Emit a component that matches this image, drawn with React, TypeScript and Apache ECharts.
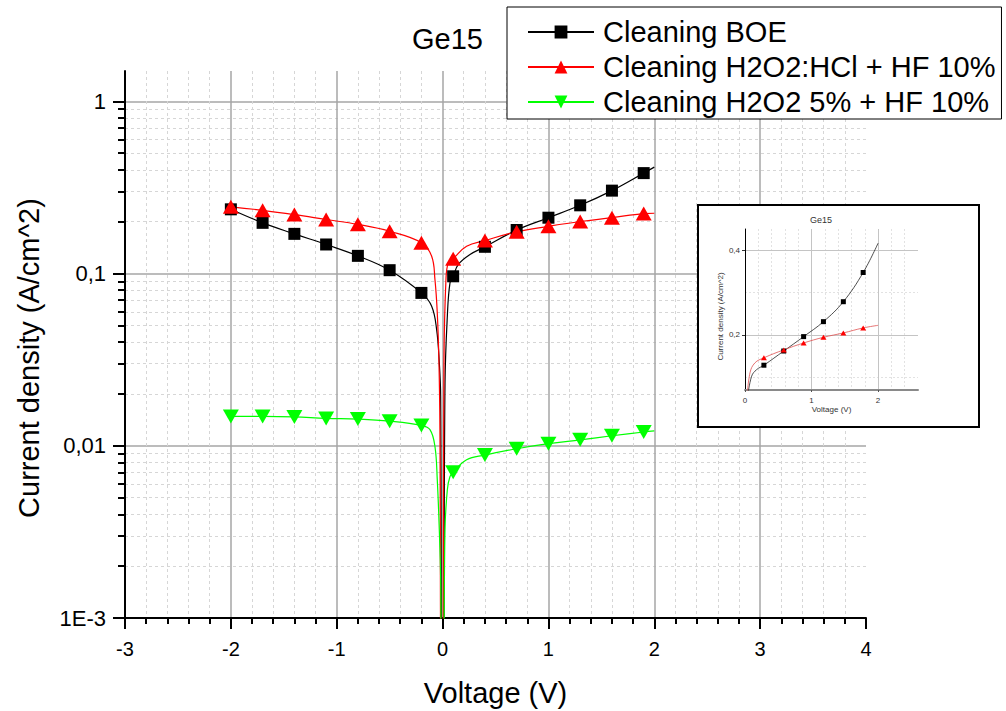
import React, { useEffect, useRef } from "react";
import * as echarts from "echarts";

const FONT = '"Liberation Sans", Arial, Helvetica, sans-serif';

// Measured points (V, A/cm^2)
const voltage = [-2, -1.7, -1.4, -1.1, -0.8, -0.5, -0.2, 0.1, 0.4, 0.7, 1.0, 1.3, 1.6, 1.9];
const boe = [0.236, 0.197, 0.17, 0.1475, 0.1267, 0.1046, 0.0772, 0.0964, 0.143, 0.179, 0.211, 0.249, 0.303, 0.383];
const hcl = [0.244, 0.233, 0.22, 0.206, 0.193, 0.176, 0.151, 0.122, 0.1555, 0.1747, 0.188, 0.2006, 0.211, 0.223];
const h2o2 = [0.0148, 0.0148, 0.0147, 0.01442, 0.01429, 0.0139, 0.01312, 0.00703, 0.00883, 0.00961, 0.01028, 0.01083, 0.01143, 0.01202];

// Extra samples of the fitted curves (around the zero crossing and the end at 2 V)
const boeFitV = [-0.103, -0.056, -0.031, -0.018, -0.006, 0.006, 0.023, 0.045, 0.07, 0.149, 0.259, 2.0];
const boeFitJ = [0.0646, 0.0472, 0.0304, 0.0194, 0.0003, 0.0003, 0.0231, 0.0565, 0.0883, 0.113, 0.129, 0.415];
const hclFitV = [-0.103, -0.072, -0.05, -0.034, -0.025, -0.012, 0.004, 0.013, 0.032, 0.054, 0.227, 2.0];
const hclFitJ = [0.126, 0.0923, 0.059, 0.0303, 0.0124, 0.0003, 0.0003, 0.0303, 0.0923, 0.1154, 0.144, 0.224];
const h2o2FitV = [-0.119, -0.072, -0.05, -0.031, -0.018, -0.008, 0.006, 0.023, 0.045, 0.07, 0.227, 2.0];
const h2o2FitJ = [0.0124, 0.0099, 0.00634, 0.00325, 0.00166, 0.0003, 0.0003, 0.00325, 0.00555, 0.00663, 0.0083, 0.0122];

// Inset: forward branch on a linear scale
const insetV = [0.284, 0.582, 0.881, 1.179, 1.478, 1.776];
const insetBoe = [0.1285, 0.162, 0.196, 0.2313, 0.2784, 0.3473];
const insetHcl = [0.146, 0.1647, 0.181, 0.1944, 0.2047, 0.2165];
const insetBoeFitV = [0.04, 0.1, 0.174, 2.0];
const insetBoeFitJ = [0.055, 0.1026, 0.118, 0.4165];
const insetHclFitV = [0.03, 0.075, 0.149, 2.0];
const insetHclFitJ = [0.05, 0.1106, 0.134, 0.2226];

// Axis ticks
const majorY = [0.001, 0.01, 0.1, 1];
const minorY = [
  0.002, 0.003, 0.004, 0.005, 0.006, 0.007, 0.008, 0.009,
  0.02, 0.03, 0.04, 0.05, 0.06, 0.07, 0.08, 0.09,
  0.2, 0.3, 0.4, 0.5, 0.6, 0.7, 0.8, 0.9,
];
const insetMajorY = [0.2, 0.4];
const insetMinorY = [0.1, 0.3];
const insetMinorX = [0.2, 0.4, 0.6, 0.8, 1.2, 1.4, 1.6, 1.8, 2.2, 2.4];

const names = ["Cleaning BOE", "Cleaning H2O2:HCl + HF 10%", "Cleaning H2O2 5% + HF 10%"];

const pairs = (xs: number[], ys: number[]) => xs.map((x, i) => [x, ys[i]]);
const curve = (xs: number[], ys: number[], fx: number[], fy: number[]) =>
  [...pairs(xs, ys), ...pairs(fx, fy)].sort((a, b) => a[0] - b[0]);

const comma = (v: number) => String(v).replace(".", ",");
const logLabel = (v: number) => (v < 0.002 ? "1E-3" : comma(v));

export default function App() {
  const ref = useRef<HTMLDivElement>(null);

  useEffect(() => {
    document.body.style.margin = "0";
    if (!ref.current) return;
    const chart = echarts.init(ref.current, null, { renderer: "svg" });

    const PLOT_W = 741;
    const majorGrid = { color: "#a6a6a6", width: 1.5 };
    const minorGrid = { color: "#d6d6d6", width: 1, type: [3, 3] };
    const black = { color: "#000", width: 2 };

    const mainLine = (name: string, data: number[][], color: string, symbol: string, size: any, rotate = 0) => ({
      name,
      type: "line",
      xAxisIndex: 0,
      yAxisIndex: 0,
      data,
      smooth: 0.4,
      showSymbol: false,
      symbol,
      symbolSize: size,
      symbolRotate: rotate,
      clip: true,
      z: 2,
      lineStyle: { color, width: 1.2 },
      itemStyle: { color },
    });
    const mainMarks = (name: string, data: number[][], color: string, symbol: string, size: any, rotate = 0) => ({
      name,
      type: "scatter",
      xAxisIndex: 0,
      yAxisIndex: 0,
      data,
      symbol,
      symbolSize: size,
      symbolRotate: rotate,
      z: 3,
      itemStyle: { color, opacity: 1 },
    });

    const option: any = {
      animation: false,
      backgroundColor: "#fff",
      textStyle: { fontFamily: FONT },
      title: [
        {
          text: "Ge15",
          left: 412,
          top: 24,
          padding: 0,
          textStyle: { fontSize: 29, fontWeight: "normal", color: "#000", fontFamily: FONT },
        },
        {
          text: "Ge15",
          left: 810,
          top: 215,
          padding: 0,
          z: 12,
          textStyle: { fontSize: 9, fontWeight: "normal", color: "#333", fontFamily: FONT },
        },
      ],
      legend: {
        data: names,
        left: 507,
        top: 7,
        orient: "vertical",
        backgroundColor: "#fff",
        borderColor: "#000",
        borderWidth: 1,
        borderRadius: 0,
        padding: [10, 6, 2, 20],
        itemWidth: 66,
        itemHeight: 16,
        itemGap: 5,
        z: 20,
        textStyle: { fontSize: 29, lineHeight: 30, color: "#000", fontFamily: FONT, padding: [0, 0, 0, 4] },
      },
      grid: [
        { left: 125, top: 71, width: PLOT_W, height: 547, containLabel: false, outerBoundsMode: "none" },
        { left: 745, top: 229, width: 173, height: 161, containLabel: false, outerBoundsMode: "none" },
      ],
      xAxis: [
        {
          type: "value",
          gridIndex: 0,
          min: -3,
          max: 4,
          interval: 1,
          axisLine: { onZero: false, lineStyle: black },
          axisTick: { show: true, length: 11, lineStyle: black },
          minorTick: { show: true, splitNumber: 5, length: 6, lineStyle: black },
          axisLabel: { fontSize: 20, color: "#000", margin: 21, fontFamily: FONT },
          splitLine: { show: true, showMinLine: false, showMaxLine: false, lineStyle: majorGrid },
          minorSplitLine: { show: true, lineStyle: minorGrid },
          name: "Voltage (V)",
          nameLocation: "middle",
          nameGap: 60,
          nameTextStyle: { fontSize: 29, color: "#000", fontFamily: FONT },
        },
        {
          type: "value",
          gridIndex: 1,
          min: 0,
          max: 2.6,
          interval: 1,
          z: 10,
          axisLine: { onZero: false, lineStyle: { color: "#8a8a8a", width: 2 } },
          axisTick: { show: true, length: 2, lineStyle: { color: "#555", width: 1 } },
          axisLabel: { fontSize: 8, color: "#333", margin: 6, showMaxLabel: false, fontFamily: FONT },
          splitLine: { show: true, showMinLine: false, showMaxLine: false, lineStyle: { color: "#c4c4c4", width: 1 } },
          name: "Voltage (V)",
          nameLocation: "middle",
          nameGap: 15,
          nameTextStyle: { fontSize: 8, color: "#333", fontFamily: FONT },
        },
        {
          type: "value",
          gridIndex: 1,
          position: "top",
          min: 0,
          max: 2.6,
          z: 9,
          axisLine: { show: false, onZero: false },
          axisTick: { show: false, customValues: insetMinorX },
          axisLabel: { show: false },
          splitLine: { show: true, lineStyle: { color: "#e2e2e2", width: 1, type: [2, 2] } },
        },
      ],
      yAxis: [
        {
          type: "log",
          logBase: 10,
          gridIndex: 0,
          position: "left",
          min: 0.001,
          max: 1.5,
          axisLine: { show: true, onZero: false, lineStyle: black },
          axisTick: { show: true, length: 12, customValues: majorY, lineStyle: black },
          axisLabel: { customValues: majorY, formatter: logLabel, fontSize: 22, color: "#000", margin: 19, fontFamily: FONT },
          splitLine: { show: true, showMinLine: false, lineStyle: majorGrid },
          name: "Current density (A/cm^2)",
          nameLocation: "middle",
          nameGap: 82,
          nameTextStyle: { fontSize: 29, color: "#000", fontFamily: FONT, padding: [0, 27, 0, 0] },
        },
        {
          // minor decade ticks: a second log axis pulled back onto the left edge
          type: "log",
          logBase: 10,
          gridIndex: 0,
          position: "right",
          offset: -PLOT_W,
          min: 0.001,
          max: 1.5,
          axisLine: { show: false, onZero: false },
          axisTick: { show: true, inside: true, length: 7, customValues: minorY, lineStyle: black },
          axisLabel: { show: false },
          splitLine: { show: true, lineStyle: minorGrid },
        },
        {
          type: "value",
          gridIndex: 1,
          position: "left",
          min: 0.07,
          max: 0.45,
          z: 10,
          axisLine: { show: true, onZero: false, lineStyle: { color: "#000", width: 1 } },
          axisTick: { show: true, length: 3, customValues: insetMajorY, lineStyle: { color: "#333", width: 1 } },
          axisLabel: { customValues: insetMajorY, formatter: comma, fontSize: 8, color: "#333", margin: 5, fontFamily: FONT },
          splitLine: { show: true, lineStyle: { color: "#c4c4c4", width: 1 } },
          name: "Current density (A/cm^2)",
          nameLocation: "middle",
          nameGap: 17,
          nameTextStyle: { fontSize: 8, color: "#333", fontFamily: FONT, padding: [0, 14, 0, 0] },
        },
        {
          type: "value",
          gridIndex: 1,
          position: "right",
          min: 0.07,
          max: 0.45,
          z: 9,
          axisLine: { show: false, onZero: false },
          axisTick: { show: false, customValues: insetMinorY },
          axisLabel: { show: false },
          splitLine: { show: true, lineStyle: { color: "#e2e2e2", width: 1, type: [2, 2] } },
        },
      ],
      graphic: {
        elements: [
          {
            type: "rect",
            z: 8,
            shape: { x: 698, y: 205, width: 281, height: 222 },
            style: { fill: "#fff", stroke: "#000", lineWidth: 2 },
            silent: true,
          },
        ],
      },
      series: [
        mainLine(names[0], curve(voltage, boe, boeFitV, boeFitJ), "#000", "rect", 12),
        mainLine(names[1], curve(voltage, hcl, hclFitV, hclFitJ), "#ff0000", "triangle", [16, 14]),
        mainLine(names[2], curve(voltage, h2o2, h2o2FitV, h2o2FitJ), "#00ff00", "triangle", [16, 14], 180),
        mainMarks(names[0], pairs(voltage, boe), "#000", "rect", 12),
        mainMarks(names[1], pairs(voltage, hcl), "#ff0000", "triangle", [16, 14]),
        mainMarks(names[2], pairs(voltage, h2o2), "#00ff00", "triangle", [16, 14], 180),
        {
          name: "BOE (linear)",
          type: "line",
          xAxisIndex: 1,
          yAxisIndex: 2,
          data: curve(insetV, insetBoe, insetBoeFitV, insetBoeFitJ),
          smooth: 0.4,
          showSymbol: false,
          clip: true,
          z: 12,
          lineStyle: { color: "#222", width: 0.8 },
        },
        {
          name: "H2O2:HCl (linear)",
          type: "line",
          xAxisIndex: 1,
          yAxisIndex: 2,
          data: curve(insetV, insetHcl, insetHclFitV, insetHclFitJ),
          smooth: 0.4,
          showSymbol: false,
          clip: true,
          z: 12,
          lineStyle: { color: "#e05050", width: 0.8 },
        },
        {
          name: "BOE points",
          type: "scatter",
          xAxisIndex: 1,
          yAxisIndex: 2,
          data: pairs(insetV, insetBoe),
          symbol: "rect",
          symbolSize: 5,
          z: 13,
          itemStyle: { color: "#000", opacity: 1 },
        },
        {
          name: "H2O2:HCl points",
          type: "scatter",
          xAxisIndex: 1,
          yAxisIndex: 2,
          data: pairs(insetV, insetHcl),
          symbol: "triangle",
          symbolSize: [6, 5],
          z: 13,
          itemStyle: { color: "#ff0000", opacity: 1 },
        },
      ],
    };

    chart.setOption(option);
    return () => chart.dispose();
  }, []);

  return <div ref={ref} style={{ width: 1006, height: 711 }} />;
}
